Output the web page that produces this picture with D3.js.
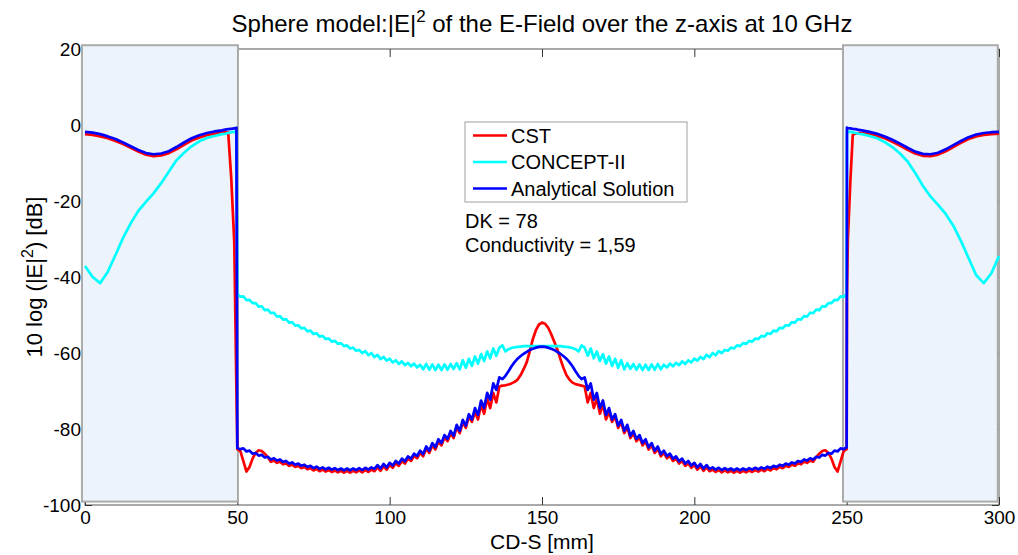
<!DOCTYPE html>
<html>
<head>
<meta charset="utf-8">
<script src="https://cdn.jsdelivr.net/npm/d3@7"></script>
<style>
  body { margin: 0; background: #fff; }
  svg { display: block; font-family: "Liberation Sans", Arial, sans-serif; }
</style>
</head>
<body>
<div id="chart"></div>
<script>
// x grid (mm) for the two shaded zones, the middle part is sampled every 1 mm from 50 to 250
const xLeft = [0, 2.5, 5, 7.5, 10, 12.5, 15, 17.5, 20, 22.5, 25, 27.5, 30, 32.5, 35, 37.5, 40, 42.5, 45, 46, 47, 48, 49, 49.7];
const xRight = [250.1, 250.4, 251.2, 252, 253, 254, 255, 257.5, 260, 262.5, 265, 267.5, 270, 272.5, 275, 277.5, 280, 282.5, 285, 287.5, 290, 292.5, 295, 297.5, 300];

// CST
const cstLeft = [-2.4, -2.6, -3.0, -3.5, -4.2, -5.0, -6.0, -7.0, -7.8, -8.2, -8.0, -7.4, -6.4, -5.2, -4.1, -3.3, -2.7, -2.3, -2.0, -1.9, -2.0, -14.0, -31.0, -70.0];
const cstMid = [
  -85.3, -85.8, -88.5, -91.2, -90.0, -87.8, -86.3, -85.6, -85.8, -86.5, -87.4,
  -88.6, -88.3, -88.9, -88.6, -89.3, -89.0, -89.7, -89.4, -90.0, -89.7,
  -90.3, -90.0, -90.6, -90.3, -90.9, -90.5, -91.1, -90.7, -91.2, -90.8,
  -91.3, -90.9, -91.4, -91.0, -91.5, -91.0, -91.5, -91.0, -91.4, -90.9,
  -91.4, -90.8, -91.3, -90.7, -91.1, -90.1, -91.0, -89.8, -90.7, -89.5,
  -90.2, -89.0, -89.7, -88.4, -89.1, -87.8, -88.4, -87.1, -87.7, -86.3,
  -87.2, -85.2, -86.3, -84.3, -85.4, -83.3, -84.3, -82.2, -83.2, -81.1,
  -82.4, -79.5, -81.1, -78.2, -79.7, -76.7, -78.1, -75.5, -77.5, -73.5,
  -76.0, -72.0, -74.5, -70.5, -73.0, -68.8, -68.6, -68.5, -68.3, -68.0,
  -67.6, -67.0, -65.8, -64.2, -62.4, -59.5, -56.3, -54.0, -52.5, -52.0,
  -52.3, -53.3, -55.0, -57.0, -59.0, -61.5, -63.8, -65.8, -67.0, -67.8,
  -68.2, -68.4, -68.6, -68.8, -73.0, -70.5, -74.5, -72.0, -76.0, -73.5,
  -77.5, -75.5, -78.1, -76.7, -79.7, -78.2, -81.1, -79.5, -82.4, -81.1,
  -83.2, -82.2, -84.3, -83.3, -85.4, -84.3, -86.3, -85.2, -87.2, -86.3,
  -87.7, -87.1, -88.4, -87.8, -89.1, -88.4, -89.7, -89.0, -90.2, -89.5,
  -90.7, -89.8, -91.0, -90.1, -91.1, -90.7, -91.3, -90.8, -91.4, -90.9,
  -91.4, -91.0, -91.5, -91.0, -91.5, -91.0, -91.4, -90.9, -91.3, -90.8,
  -91.2, -90.7, -91.1, -90.5, -90.9, -90.3, -90.6, -90.0, -90.3, -89.7,
  -90.0, -89.4, -89.7, -89.0, -89.3, -88.6, -88.9, -88.3, -88.6, -87.4,
  -86.5, -85.8, -85.6, -86.3, -87.8, -90.0, -91.2, -88.5, -85.8, -85.3
];
const cstRight = [-45.0, -30.0, -15.0, -2.6, -2.2, -2.1, -2.1, -2.3, -2.8, -3.5, -4.4, -5.4, -6.5, -7.5, -8.1, -8.2, -7.8, -6.9, -5.8, -4.7, -3.7, -3.0, -2.6, -2.4, -2.3];

// CONCEPT-II
const conceptLeft = [-37.1, -40.0, -41.6, -38.6, -34.2, -29.7, -25.9, -22.6, -20.2, -18.0, -15.3, -12.3, -9.3, -7.3, -5.6, -4.3, -3.4, -2.9, -2.4, -2.3, -2.1, -1.9, -1.8, -1.7];
const conceptMid = [
  -44.5, -45.2, -45.1, -46.1, -46.0, -46.9, -46.9, -47.8, -47.7, -48.7, -48.6,
  -49.5, -49.4, -50.4, -50.3, -51.2, -51.1, -52.0, -51.9, -52.8, -52.7,
  -53.5, -53.4, -54.3, -54.1, -55.0, -54.8, -55.7, -55.5, -56.3, -56.2,
  -57.0, -56.8, -57.6, -57.4, -58.2, -58.0, -58.8, -58.6, -59.4, -59.2,
  -60.0, -59.5, -60.6, -60.0, -61.1, -60.5, -61.6, -61.0, -62.0, -61.5,
  -62.5, -61.9, -62.9, -62.2, -63.2, -62.6, -63.5, -62.8, -63.8, -63.1,
  -64.3, -62.9, -64.4, -63.0, -64.5, -63.1, -64.5, -63.0, -64.4, -62.9,
  -64.2, -62.7, -64.3, -61.9, -63.9, -61.5, -63.4, -60.9, -62.8, -60.3,
  -62.1, -59.6, -61.4, -58.8, -60.7, -58.6, -58.0, -59.6, -59.0, -58.7,
  -58.5, -58.4, -58.3, -58.2, -58.2, -58.2, -58.2, -58.2, -58.2, -58.2,
  -58.2, -58.2, -58.2, -58.2, -58.2, -58.2, -58.3, -58.4, -58.5, -58.7,
  -59.0, -59.6, -58.0, -58.6, -60.7, -58.8, -61.4, -59.6, -62.1, -60.3,
  -62.8, -60.9, -63.4, -61.5, -63.9, -61.9, -64.3, -62.7, -64.2, -62.9,
  -64.4, -63.0, -64.5, -63.1, -64.5, -63.0, -64.4, -62.9, -64.3, -63.1,
  -63.8, -62.8, -63.5, -62.6, -63.2, -62.2, -62.9, -61.9, -62.5, -61.5,
  -62.0, -61.0, -61.6, -60.5, -61.1, -60.0, -60.6, -59.5, -60.0, -59.2,
  -59.4, -58.6, -58.8, -58.0, -58.2, -57.4, -57.6, -56.8, -57.0, -56.2,
  -56.3, -55.5, -55.7, -54.8, -55.0, -54.1, -54.3, -53.4, -53.5, -52.7,
  -52.8, -51.9, -52.0, -51.1, -51.2, -50.3, -50.4, -49.4, -49.5, -48.6,
  -48.7, -47.7, -47.8, -46.9, -46.9, -46.0, -46.1, -45.1, -45.2, -44.5
];
const conceptRight = [-1.7, -1.7, -1.8, -1.9, -2.1, -2.3, -2.4, -2.9, -3.5, -4.5, -5.8, -7.5, -9.6, -12.6, -16.0, -18.8, -21.0, -23.4, -26.5, -30.5, -35.0, -39.5, -41.6, -39.0, -34.5];

// Analytical Solution
const analyticLeft = [-1.8, -2.0, -2.4, -3.0, -3.7, -4.6, -5.6, -6.6, -7.4, -7.7, -7.5, -6.9, -5.8, -4.6, -3.5, -2.7, -2.1, -1.7, -1.4, -1.2, -1.1, -1.0, -0.9, -0.7];
const analyticMid = [
  -85.0, -85.3, -85.1, -85.9, -85.7, -86.5, -86.3, -87.0, -86.8, -87.5, -87.3,
  -88.0, -87.7, -88.3, -88.0, -88.7, -88.4, -89.1, -88.8, -89.4, -89.1,
  -89.7, -89.4, -90.0, -89.7, -90.3, -89.9, -90.5, -90.1, -90.6, -90.2,
  -90.7, -90.3, -90.8, -90.4, -90.9, -90.4, -90.9, -90.4, -90.8, -90.3,
  -90.8, -90.2, -90.7, -90.1, -90.5, -89.5, -90.4, -89.2, -90.1, -88.9,
  -89.6, -88.4, -89.1, -87.8, -88.5, -87.2, -87.8, -86.5, -87.1, -85.7,
  -86.6, -84.6, -85.7, -83.7, -84.8, -82.7, -83.7, -81.6, -82.6, -80.5,
  -81.8, -78.9, -80.5, -77.6, -79.1, -76.1, -77.5, -74.5, -76.3, -72.5,
  -74.5, -70.5, -72.3, -68.0, -69.7, -66.4, -66.9, -66.0, -64.8, -63.5,
  -62.4, -61.5, -60.8, -60.2, -59.7, -59.2, -58.9, -58.6, -58.4, -58.3,
  -58.4, -58.6, -58.9, -59.2, -59.7, -60.2, -60.8, -61.5, -62.4, -63.5,
  -64.8, -66.0, -66.9, -66.4, -69.7, -68.0, -72.3, -70.5, -74.5, -72.5,
  -76.3, -74.5, -77.5, -76.1, -79.1, -77.6, -80.5, -78.9, -81.8, -80.5,
  -82.6, -81.6, -83.7, -82.7, -84.8, -83.7, -85.7, -84.6, -86.6, -85.7,
  -87.1, -86.5, -87.8, -87.2, -88.5, -87.8, -89.1, -88.4, -89.6, -88.9,
  -90.1, -89.2, -90.4, -89.5, -90.5, -90.1, -90.7, -90.2, -90.8, -90.3,
  -90.8, -90.4, -90.9, -90.4, -90.9, -90.4, -90.8, -90.3, -90.7, -90.2,
  -90.6, -90.1, -90.5, -89.9, -90.3, -89.7, -90.0, -89.4, -89.7, -89.1,
  -89.4, -88.8, -89.1, -88.4, -88.7, -88.0, -88.3, -87.7, -88.0, -87.3,
  -87.5, -86.8, -87.0, -86.3, -86.5, -85.7, -85.9, -85.1, -85.3, -84.8
];
const analyticRight = [-0.7, -0.8, -0.9, -1.0, -1.1, -1.3, -1.4, -1.8, -2.3, -3.0, -3.9, -4.9, -6.0, -7.0, -7.6, -7.7, -7.3, -6.4, -5.3, -4.2, -3.2, -2.5, -2.1, -1.9, -1.8];

const seriesNames = ['CST', 'CONCEPT-II', 'Analytical Solution'];
const seriesColors = ['#ff0000', '#00ffff', '#0000ff'];
const xTicks = [0, 50, 100, 150, 200, 250, 300];
const yTicks = [20, 0, -20, -40, -60, -80, -100];
// shaded zones (mm, dB)
const zones = [[-1, 50.2], [248.8, 299.6]];
const zoneRange = [21, -99.1];
const notes = ['DK = 78', 'Conductivity = 1,59'];

const W = 1018, H = 555;
const margin = { top: 49, right: 19, bottom: 50, left: 85 };
const width = W - margin.left - margin.right;
const height = H - margin.top - margin.bottom;

const xGrid = xLeft.concat(d3.range(50, 251), xRight);
const series = [
    cstLeft.concat(cstMid, cstRight),
    conceptLeft.concat(conceptMid, conceptRight),
    analyticLeft.concat(analyticMid, analyticRight)
].map((vals, i) => ({
    name: seriesNames[i],
    color: seriesColors[i],
    points: vals.map((v, j) => [xGrid[j], v])
}));

const svg = d3.select('#chart').append('svg')
    .attr('width', W)
    .attr('height', H);

svg.append('rect').attr('width', W).attr('height', H).attr('fill', '#fff');

const x = d3.scaleLinear().domain([0, 300]).range([0, width]);
const y = d3.scaleLinear().domain([-100, 20]).range([height, 0]);

const chart = svg.append('g')
    .attr('transform', `translate(${margin.left},${margin.top})`);

// axes box and ticks (inward, matlab style)
chart.append('rect')
    .attr('width', width).attr('height', height)
    .attr('fill', 'none').attr('stroke', '#555').attr('stroke-width', 1);

const fmt = d => String(d);

chart.append('g')
    .attr('transform', `translate(0,${height})`)
    .call(d3.axisBottom(x).tickValues(xTicks).tickSizeInner(-8).tickSizeOuter(0).tickPadding(6).tickFormat(fmt));
chart.append('g')
    .call(d3.axisTop(x).tickValues(xTicks).tickSizeInner(-8).tickSizeOuter(0).tickFormat(''));
chart.append('g')
    .call(d3.axisLeft(y).tickValues(yTicks).tickSizeInner(-7).tickSizeOuter(0).tickPadding(4).tickFormat(fmt));
chart.append('g')
    .attr('transform', `translate(${width},0)`)
    .call(d3.axisRight(y).tickValues(yTicks).tickSizeInner(-7).tickSizeOuter(0).tickFormat(''));

chart.selectAll('.domain').remove();
chart.selectAll('.tick line').attr('stroke', '#333');
chart.selectAll('.tick text')
    .attr('fill', '#000')
    .style('font-size', '19px')
    .style('font-family', '"Liberation Sans", Arial, sans-serif');

// shaded zones
chart.selectAll('.zone')
    .data(zones)
    .enter().append('rect')
    .attr('class', 'zone')
    .attr('x', d => x(d[0]))
    .attr('width', d => x(d[1]) - x(d[0]))
    .attr('y', y(zoneRange[0]))
    .attr('height', y(zoneRange[1]) - y(zoneRange[0]))
    .attr('fill', '#edf3fa')
    .attr('stroke', '#ababab')
    .attr('stroke-width', 2);

const line = d3.line()
    .x(d => x(d[0]))
    .y(d => y(d[1]));

chart.selectAll('.series')
    .data(series)
    .enter().append('path')
    .attr('class', 'series')
    .attr('d', d => line(d.points))
    .attr('fill', 'none')
    .attr('stroke', d => d.color)
    .attr('stroke-width', 2.7)
    .attr('stroke-linejoin', 'round');

// legend
const legend = svg.append('g').attr('transform', 'translate(465,122)');
legend.append('rect')
    .attr('width', 222).attr('height', 80)
    .attr('fill', '#fff').attr('stroke', '#a0a0a0').attr('stroke-width', 1);
const item = legend.selectAll('.item')
    .data(series)
    .enter().append('g')
    .attr('class', 'item')
    .attr('transform', (d, i) => `translate(0,${13.5 + i * 26.5})`);
item.append('line')
    .attr('x1', 8).attr('x2', 42)
    .attr('stroke', d => d.color).attr('stroke-width', 2.5);
item.append('text')
    .attr('x', 46).attr('dy', '0.36em')
    .style('font-size', '20px')
    .text(d => d.name);

svg.selectAll('.note')
    .data(notes)
    .enter().append('text')
    .attr('class', 'note')
    .attr('x', 465)
    .attr('y', (d, i) => 228 + i * 24)
    .style('font-size', '20px')
    .text(d => d);

// title and axis labels
const title = svg.append('text')
    .attr('x', margin.left + width / 2)
    .attr('y', 32)
    .attr('text-anchor', 'middle')
    .style('font-size', '24px');
title.append('tspan').text('Sphere model:|E|');
title.append('tspan').attr('dy', -10).style('font-size', '17px').text('2');
title.append('tspan').attr('dy', 10).text(' of the E-Field over the z-axis at 10 GHz');

svg.append('text')
    .attr('x', margin.left + width / 2)
    .attr('y', 549)
    .attr('text-anchor', 'middle')
    .style('font-size', '21px')
    .text('CD-S [mm]');

const ylab = svg.append('text')
    .attr('transform', `translate(42,${margin.top + height / 2}) rotate(-90)`)
    .attr('text-anchor', 'middle')
    .style('font-size', '22px');
ylab.append('tspan').text('10 log (|E|');
ylab.append('tspan').attr('dy', -9).style('font-size', '16px').text('2');
ylab.append('tspan').attr('dy', 9).text(') [dB]');
</script>
</body>
</html>
